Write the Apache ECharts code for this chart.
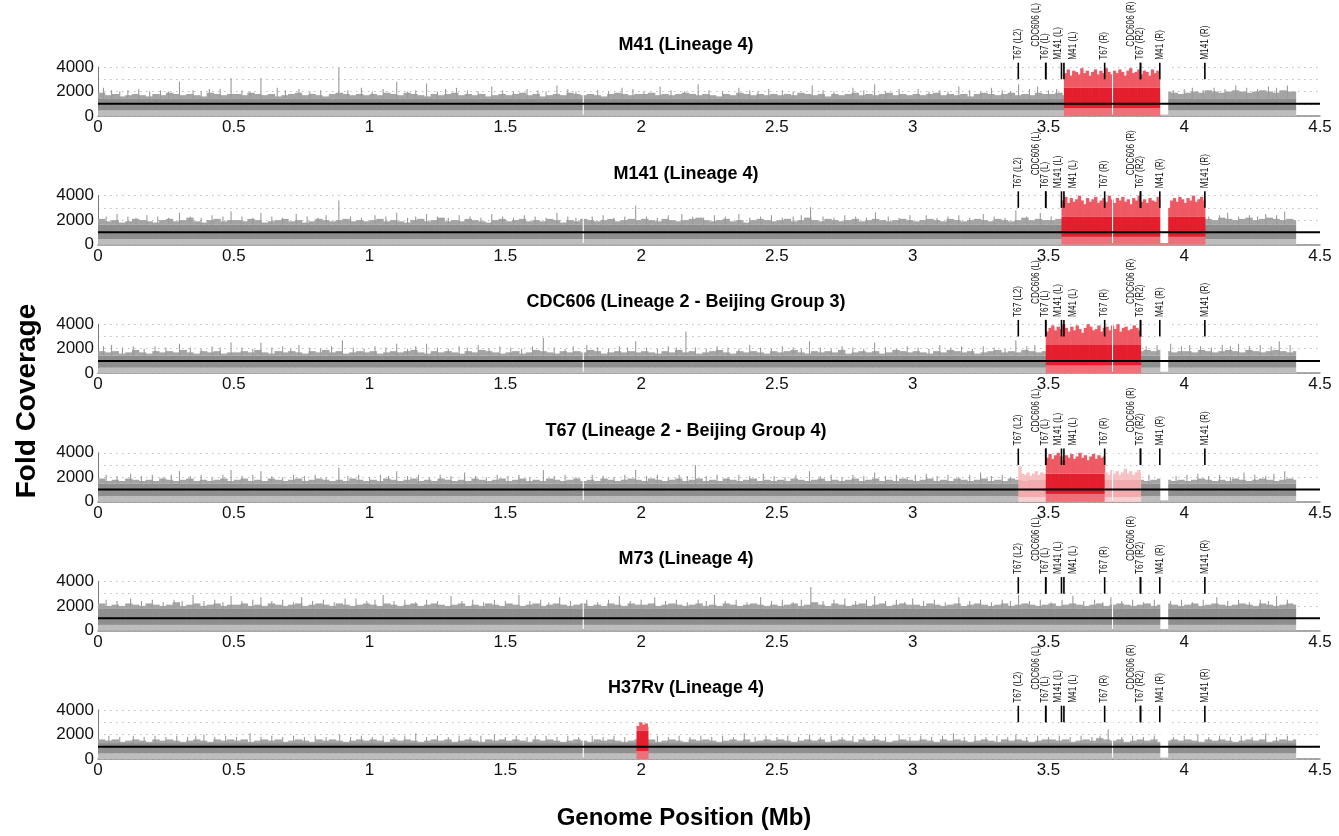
<!DOCTYPE html>
<html><head><meta charset="utf-8">
<script src="https://cdn.jsdelivr.net/npm/echarts@6/dist/echarts.min.js"></script>
<style>html,body{margin:0;padding:0;background:#fff}#chart{width:1339px;height:836px}</style>
</head><body><div id="chart"></div>
<script>
// ===================== DATA =====================
const sampleTitles = [
  'M41 (Lineage 4)',
  'M141 (Lineage 4)',
  'CDC606 (Lineage 2 - Beijing Group 3)',
  'T67 (Lineage 2 - Beijing Group 4)',
  'M73 (Lineage 4)',
  'H37Rv (Lineage 4)'
];
const xTickValues = [0, 0.5, 1, 1.5, 2, 2.5, 3, 3.5, 4, 4.5];
const yTickLabels = [0, 2000, 4000];
const genomeLengthMb = 4.41;
const binMb = 0.025;          // resolution of the coverage envelope arrays
const raisedBinMb = 0.01;     // resolution of the amplified-region arrays
const meanCoverage = 1000;
const coverageUnit = 100;     // envelope arrays are given in hundreds of fold coverage

// upper envelope of the grey coverage trace, one value per 0.025 Mb (hundreds)
const m41Top = [
  19,17,18,16,17,18,17,16,18,17,19,18,17,18,17,16,19,18,17,18,
  18,17,19,18,17,18,16,17,18,19,17,18,17,16,18,19,18,17,18,17,
  18,17,19,18,17,19,18,17,16,18,17,18,19,17,18,17,18,16,17,18,
  17,18,19,17,18,16,17,18,17,19,18,17,18,17,16,18,19,18,17,18,
  18,19,17,18,17,18,19,18,17,18,17,16,18,17,19,18,17,18,17,18,
  17,18,17,19,18,17,18,16,18,17,18,19,17,18,17,18,19,17,18,17,
  18,17,18,19,17,18,17,18,16,18,19,18,17,18,19,17,18,17,19,18,
  18,19,17,18,19,18,17,19,18,17,18,19,18,17,18,19,18,20,19,18,
  19,20,19,21,20,19,20,21,20,19,20,21,20,19,21,20,20
];
const m141Top = [
  21,19,20,18,19,21,20,19,18,20,21,19,20,22,19,18,20,21,19,20,
  20,19,21,20,18,19,20,21,19,20,18,19,21,20,19,20,21,19,20,19,
  20,21,19,20,19,18,20,21,19,20,22,19,20,19,21,20,19,18,20,21,
  19,20,21,19,20,19,21,20,18,20,19,21,20,19,20,21,19,20,21,20,
  21,20,19,21,20,19,20,21,22,20,19,20,21,19,20,18,20,21,20,19,
  20,21,19,20,22,20,19,21,20,19,20,21,19,20,21,20,19,20,21,20,
  19,20,21,20,19,21,20,19,20,21,20,19,21,20,19,20,22,20,21,20,
  20,21,20,19,21,20,19,20,21,20,19,21,20,19,21,20,19,20,21,20,
  20,21,20,21,20,22,21,20,21,22,20,21,22,21,20,21,20
];
const cdc606Top = [
  18,17,18,16,17,19,17,16,18,17,18,17,19,17,16,18,17,18,16,17,
  17,18,17,19,17,16,18,17,18,17,16,18,17,19,17,18,16,17,18,17,
  18,16,17,18,17,18,19,17,16,18,17,18,17,16,18,17,19,18,17,16,
  17,18,16,17,19,18,17,16,18,17,18,17,19,18,16,17,18,17,18,17,
  18,17,16,18,17,19,17,18,16,17,18,19,17,16,18,17,18,17,16,18,
  17,18,19,17,16,18,17,18,17,19,16,17,18,17,18,16,17,19,18,17,
  18,17,16,18,17,19,18,17,18,16,17,18,19,17,18,17,19,18,17,18,
  18,19,18,19,18,19,18,18,19,18,18,19,18,18,19,18,19,18,17,18,
  18,17,19,18,17,18,19,18,17,19,18,17,18,19,18,17,18
];
const t67Top = [
  19,17,18,17,19,18,17,18,17,19,18,17,18,19,17,18,17,18,19,17,
  18,19,17,18,17,19,18,17,18,19,17,18,19,18,17,18,17,19,18,17,
  18,17,19,18,17,18,19,17,18,17,19,18,17,18,17,19,18,17,18,19,
  17,18,19,17,18,17,19,18,17,18,19,17,18,17,19,18,17,18,19,18,
  17,19,18,17,18,19,17,18,19,17,18,17,19,18,17,18,19,17,18,17,
  18,17,19,18,17,18,19,17,18,17,18,19,17,18,19,17,18,17,19,18,
  17,18,19,17,18,17,19,18,17,18,19,17,18,17,19,18,17,18,19,18,
  19,18,19,18,19,18,19,18,19,18,19,18,19,18,17,18,19,18,17,18,
  17,18,19,18,17,18,17,19,18,17,18,19,18,17,18,19,18
];
const m73Top = [
  22,20,21,20,22,21,20,22,21,20,21,23,20,21,22,20,21,22,20,21,
  21,22,20,21,20,22,21,20,21,22,20,21,22,21,20,22,21,20,21,22,
  21,20,22,21,20,21,22,20,21,22,21,20,21,22,20,21,20,22,21,20,
  22,21,20,21,22,20,21,22,21,20,21,22,20,21,20,22,21,20,22,21,
  21,22,20,21,22,21,20,21,22,20,21,20,22,21,20,21,22,21,20,21,
  20,21,22,20,21,23,21,20,22,21,20,21,22,20,21,22,20,21,22,21,
  21,20,22,21,20,21,22,20,21,22,21,20,21,22,20,21,22,21,20,21,
  22,20,21,22,21,20,21,22,20,21,22,21,20,21,22,20,21,22,21,20,
  21,22,20,21,22,21,20,21,22,21,20,22,21,20,21,22,21
];
const h37rvTop = [
  16,15,16,14,15,16,15,14,16,15,16,15,14,15,16,15,14,16,15,16,
  15,16,14,15,16,15,16,14,15,16,15,14,16,15,16,15,14,15,16,15,
  16,15,14,16,15,16,15,14,15,16,15,16,14,15,16,15,14,16,15,16,
  15,16,15,14,16,15,16,15,14,15,16,15,14,16,15,16,15,14,15,16,
  15,16,14,15,16,15,14,16,15,16,15,14,15,16,15,16,14,15,16,15,
  16,15,14,15,16,15,16,14,15,16,15,14,16,15,16,15,14,15,16,15,
  15,16,15,14,16,15,16,15,14,15,16,15,14,16,15,16,15,14,15,16,
  16,15,16,14,15,16,15,17,16,15,16,14,15,16,15,16,14,15,16,15,
  16,15,14,16,15,16,15,14,15,16,15,16,14,15,16,15,16
];

// thin peaks rising above the envelope: [position Mb, fold coverage]
const m41Peaks = [[0.02,2300],[0.05,2100],[0.08,2000],[0.11,2100],[0.15,2200],[0.19,2000],[0.23,2100],[0.26,2000],[0.30,2800],[0.35,2100],[0.38,2000],[0.41,2200],[0.45,2200],[0.49,3080],[0.53,2100],[0.56,2000],[0.60,3080],[0.66,2300],[0.69,2100],[0.74,2200],[0.78,2000],[0.82,2100],[0.887,3940],[0.92,2100],[0.97,2300],[1.01,2000],[1.05,2200],[1.10,2800],[1.14,2000],[1.17,2100],[1.21,2660],[1.25,2000],[1.28,2200],[1.32,2300],[1.36,2100],[1.40,2000],[1.45,2400],[1.49,2100],[1.53,2000],[1.58,2200],[1.62,2100],[1.65,2000],[1.69,2500],[1.73,2200],[1.76,2000],[1.84,2100],[1.88,2000],[1.93,2300],[1.97,2200],[2.01,2000],[2.07,2400],[2.11,2100],[2.16,2000],[2.21,2600],[2.25,2100],[2.30,2000],[2.36,2300],[2.40,2100],[2.43,2000],[2.47,2200],[2.52,2100],[2.56,2000],[2.63,2500],[2.67,2100],[2.71,2000],[2.78,2300],[2.82,2100],[2.86,2600],[2.90,2000],[2.95,2200],[3.02,2200],[3.06,2000],[3.10,2100],[3.13,2000],[3.17,2400],[3.21,2100],[3.25,2000],[3.29,2300],[3.33,2100],[3.36,2000],[3.39,2600],[3.43,2200],[3.46,2400],[3.50,2100],[3.53,2200],[3.96,2100],[4.00,2200],[4.03,2300],[4.07,2100],[4.11,2300],[4.15,2200],[4.19,2500],[4.23,2300],[4.27,2200],[4.31,2400],[4.34,2300],[4.38,2500]];
const m141Peaks = [[0.03,2300],[0.07,2500],[0.11,2300],[0.14,2200],[0.18,2400],[0.22,2300],[0.26,2200],[0.30,2600],[0.34,2300],[0.38,2200],[0.42,2400],[0.46,2300],[0.49,2700],[0.53,2300],[0.57,2200],[0.60,2600],[0.64,2300],[0.68,2200],[0.73,2500],[0.77,2300],[0.81,2200],[0.84,2400],[0.887,3600],[0.93,2300],[0.97,2200],[1.02,2400],[1.06,2300],[1.10,2600],[1.14,2200],[1.17,2300],[1.21,2500],[1.25,2300],[1.29,2200],[1.33,2400],[1.37,2300],[1.41,2200],[1.45,2500],[1.49,2300],[1.53,2200],[1.57,2400],[1.61,2300],[1.65,2200],[1.69,2600],[1.73,2300],[1.76,2200],[1.82,2300],[1.86,2400],[1.90,2200],[1.94,2300],[1.98,3180],[2.02,2300],[2.06,2200],[2.10,2400],[2.15,2500],[2.19,2300],[2.23,2200],[2.27,2400],[2.31,2300],[2.36,2500],[2.40,2200],[2.44,2300],[2.48,2400],[2.52,2200],[2.56,2300],[2.59,2400],[2.624,3050],[2.67,2300],[2.71,2200],[2.75,2400],[2.79,2300],[2.83,2200],[2.863,2640],[2.91,2300],[2.95,2200],[2.99,2400],[3.05,2400],[3.09,2200],[3.13,2300],[3.17,2400],[3.21,2200],[3.26,2500],[3.30,2300],[3.34,2200],[3.38,2800],[3.42,2300],[3.47,2600],[3.51,2300],[4.09,2300],[4.13,2400],[4.16,2600],[4.20,2300],[4.24,2400],[4.27,2300],[4.30,2500],[4.34,2400],[4.37,2700]];
const cdc606Peaks = [[0.02,2200],[0.05,2300],[0.09,2100],[0.13,2200],[0.17,2000],[0.21,2200],[0.25,2100],[0.30,2400],[0.34,2100],[0.38,2000],[0.42,2200],[0.45,2100],[0.49,2500],[0.53,2100],[0.57,2000],[0.60,2500],[0.64,2100],[0.68,2200],[0.71,2000],[0.74,2300],[0.78,2100],[0.82,2000],[0.86,2200],[0.90,2700],[0.94,2100],[0.98,2000],[1.02,2200],[1.06,2100],[1.10,2400],[1.14,2000],[1.17,2200],[1.21,2400],[1.25,2100],[1.29,2000],[1.33,2200],[1.36,2100],[1.40,2300],[1.44,2000],[1.48,2200],[1.52,2100],[1.56,2000],[1.60,2200],[1.64,2900],[1.68,2100],[1.72,2000],[1.75,2200],[1.80,2300],[1.84,2100],[1.88,2000],[1.92,2200],[1.95,2100],[1.98,2600],[2.02,2100],[2.06,2000],[2.10,2200],[2.13,2100],[2.165,3400],[2.20,2100],[2.24,2000],[2.28,2200],[2.32,2100],[2.36,2000],[2.40,2300],[2.44,2100],[2.48,2000],[2.52,2200],[2.56,2100],[2.59,2000],[2.62,2600],[2.66,2100],[2.70,2000],[2.74,2200],[2.78,2100],[2.82,2000],[2.86,2500],[2.90,2100],[2.94,2000],[2.98,2200],[3.02,2100],[3.06,2000],[3.10,2300],[3.14,2100],[3.18,2200],[3.22,2000],[3.26,2200],[3.30,2100],[3.34,2000],[3.38,2700],[3.42,2200],[3.45,2300],[3.86,2200],[3.90,2300],[3.95,2400],[3.99,2200],[4.02,2300],[4.06,2200],[4.10,2100],[4.14,2300],[4.17,2200],[4.20,2400],[4.24,2200],[4.28,2300],[4.32,2200],[4.35,2600],[4.39,2300]];
const t67Peaks = [[0.03,2200],[0.07,2100],[0.12,2300],[0.16,2100],[0.20,2200],[0.24,2000],[0.27,2200],[0.30,2500],[0.34,2100],[0.38,2200],[0.42,2000],[0.46,2200],[0.49,2600],[0.53,2100],[0.57,2200],[0.60,2500],[0.64,2100],[0.68,2000],[0.72,2200],[0.76,2100],[0.80,2200],[0.84,2000],[0.887,2800],[0.92,2100],[0.96,2200],[1.00,2000],[1.04,2200],[1.07,2100],[1.10,2500],[1.14,2100],[1.18,2200],[1.22,2000],[1.26,2200],[1.30,2100],[1.35,2400],[1.39,2100],[1.43,2000],[1.47,2200],[1.51,2100],[1.55,2200],[1.59,2000],[1.64,2600],[1.68,2100],[1.72,2200],[1.76,2000],[1.82,2200],[1.86,2100],[1.90,2000],[1.94,2200],[1.98,2600],[2.02,2100],[2.06,2200],[2.10,2000],[2.14,2200],[2.17,2100],[2.20,3000],[2.24,2100],[2.28,2200],[2.32,2000],[2.36,2200],[2.40,2100],[2.45,2300],[2.49,2100],[2.53,2000],[2.57,2200],[2.62,2500],[2.66,2100],[2.70,2200],[2.74,2000],[2.78,2200],[2.82,2100],[2.86,2400],[2.90,2100],[2.94,2200],[2.98,2000],[3.01,2200],[3.05,2300],[3.09,2100],[3.13,2200],[3.17,2000],[3.21,2200],[3.25,2400],[3.29,2100],[3.33,2200],[3.36,2000],[3.87,2200],[3.93,2300],[3.97,2100],[4.01,2200],[4.05,2300],[4.09,2100],[4.13,2200],[4.17,2000],[4.22,2400],[4.26,2200],[4.30,2100],[4.33,2300],[4.37,2500]];
const m73Peaks = [[0.03,2500],[0.07,2400],[0.12,2600],[0.16,2400],[0.20,2500],[0.24,2300],[0.28,2500],[0.31,2400],[0.35,2900],[0.39,2400],[0.43,2500],[0.46,2300],[0.49,2800],[0.53,2400],[0.57,2500],[0.60,2700],[0.64,2400],[0.68,2500],[0.72,2300],[0.75,2700],[0.79,2400],[0.83,2500],[0.87,2300],[0.91,2600],[0.95,2600],[0.99,2400],[1.02,2500],[1.05,2900],[1.09,2400],[1.13,2500],[1.17,2300],[1.21,2500],[1.25,2400],[1.30,2800],[1.34,2400],[1.38,2500],[1.42,2300],[1.46,2500],[1.50,2400],[1.55,2900],[1.59,2400],[1.63,2500],[1.66,2300],[1.70,2700],[1.74,2400],[1.80,2500],[1.84,2300],[1.88,2500],[1.92,2800],[1.96,2400],[2.00,2500],[2.05,2700],[2.09,2400],[2.13,2500],[2.17,2300],[2.21,2500],[2.24,2400],[2.27,2900],[2.31,2400],[2.35,2500],[2.39,2300],[2.44,2700],[2.48,2400],[2.52,2500],[2.56,2300],[2.59,2500],[2.625,3540],[2.67,2400],[2.71,2500],[2.75,2600],[2.79,2400],[2.83,2500],[2.86,2800],[2.90,2400],[2.94,2500],[2.97,2300],[3.00,2600],[3.04,2400],[3.08,2500],[3.12,2300],[3.17,2700],[3.21,2400],[3.25,2500],[3.29,2300],[3.33,2500],[3.36,2400],[3.39,2900],[3.43,2400],[3.47,2500],[3.51,2300],[3.55,2500],[3.59,2800],[3.63,2400],[3.67,2500],[3.70,2300],[3.73,2700],[3.77,2400],[3.81,2500],[3.85,2300],[3.89,2500],[3.95,2400],[3.99,2500],[4.03,2300],[4.07,2500],[4.12,2700],[4.16,2400],[4.20,2500],[4.24,2300],[4.28,2500],[4.31,2400],[4.34,2800],[4.38,2500]];
const h37rvPeaks = [[0.04,1900],[0.08,1800],[0.13,1900],[0.17,1800],[0.21,1900],[0.25,1800],[0.29,1900],[0.33,1800],[0.36,1900],[0.39,2000],[0.43,1800],[0.47,1900],[0.51,1800],[0.56,2100],[0.60,1800],[0.64,1900],[0.68,1800],[0.72,1900],[0.76,1800],[0.80,1900],[0.84,1800],[0.89,2000],[0.93,1800],[0.97,1900],[1.01,1800],[1.05,1900],[1.09,1800],[1.13,1900],[1.17,2100],[1.21,1800],[1.25,1900],[1.29,1800],[1.33,1900],[1.37,1800],[1.41,1900],[1.46,2000],[1.50,1800],[1.54,1900],[1.58,1800],[1.61,1900],[1.65,1900],[1.69,1800],[1.73,1900],[1.77,1800],[1.82,1900],[1.86,1800],[1.90,1900],[1.94,1800],[2.06,1900],[2.10,1800],[2.14,1900],[2.18,1800],[2.22,1900],[2.26,1800],[2.30,1900],[2.34,1800],[2.38,2100],[2.42,1800],[2.46,1900],[2.50,1800],[2.54,1900],[2.58,1800],[2.62,2000],[2.66,1800],[2.70,1900],[2.74,1800],[2.78,1900],[2.82,1800],[2.86,1900],[2.90,1800],[2.95,2000],[2.99,1800],[3.03,1900],[3.07,1800],[3.11,1900],[3.15,2100],[3.19,1800],[3.23,1900],[3.27,1800],[3.31,1900],[3.35,1800],[3.38,2000],[3.42,1800],[3.46,1900],[3.50,1800],[3.54,1900],[3.58,1800],[3.62,1900],[3.66,1800],[3.69,1900],[3.72,2400],[3.77,1800],[3.81,1900],[3.85,1800],[3.89,1900],[3.96,1800],[4.00,1900],[4.05,2000],[4.09,1800],[4.13,1900],[4.17,1800],[4.21,1900],[4.25,1800],[4.30,2100],[4.34,1800],[4.38,1900]];

// amplified regions: start / end (Mb), kind, upper envelope per 0.01 Mb (hundreds)
const m41Amplified   = [{start:3.557, end:3.910, kind:'high', tops:[35,38,33,37,36,34,39,35,37,33,36,38,34,37,35,39,36,34,37,35,38,36,33,37,39,35,36,38,34,37,36,33,38,35,37,36]}];
const m141Amplified  = [{start:3.548, end:4.076, kind:'high', tops:[36,39,34,38,35,37,40,36,33,38,35,37,39,34,36,38,35,40,37,34,38,36,39,35,37,33,38,36,40,35,37,34,38,36,35,39,37,30,30,30,36,38,35,39,37,34,38,36,40,35,37,39,36]}];
const cdc606Amplified = [{start:3.490, end:3.839, kind:'high', tops:[34,37,39,35,38,36,40,37,34,38,35,39,36,33,37,40,38,35,36,39,34,37,38,35,39,36,40,34,37,38,35,36,39,37,35]}];
const t67Amplified   = [
  {start:3.389, end:3.490, kind:'mid',  tops:[29,23,22,24,21,23,25,22,24,23,22]},
  {start:3.490, end:3.707, kind:'high', tops:[36,39,35,38,40,37,34,38,36,39,35,37,40,36,38,34,37,39,35,38,36,37]},
  {start:3.707, end:3.839, kind:'mid',  tops:[24,22,26,23,25,22,24,27,23,25,22,24,26,23]}
];
const m73Amplified   = [];
const h37rvAmplified = [{start:1.983, end:2.025, kind:'high', tops:[27,30,28,29,26]}];

// zero-coverage gaps (Mb)
const coverageGaps = [[1.785,1.789],[3.734,3.738],[3.912,3.941]];

// deletion / duplication boundary markers
const markerNames = ['T67 (L2)','CDC606 (L)','T67 (L)','M141 (L)','M41 (L)','T67 (R)','CDC606 (R)','T67 (R2)','M41 (R)','M141 (R)'];
const markerPositions = [3.389, 3.490, 3.490, 3.548, 3.557, 3.707, 3.839, 3.839, 3.910, 4.076];
const markerSpan = [3000, 4350];   // fold-coverage extent of each marker tick

const panelTops = [m41Top, m141Top, cdc606Top, t67Top, m73Top, h37rvTop];
const panelPeaks = [m41Peaks, m141Peaks, cdc606Peaks, t67Peaks, m73Peaks, h37rvPeaks];
const panelAmplified = [m41Amplified, m141Amplified, cdc606Amplified, t67Amplified, m73Amplified, h37rvAmplified];
const panelCore = [1450, 1650, 1450, 1500, 1750, 1300]; // top of the dense part of the grey trace

// ===================== STYLE / LAYOUT =====================
const GRID_LEFT = 98, GRID_RIGHT = 19, GRID_H = 49, FIRST_TOP = 67, STEP_Y = 128.6;
const SANS = '"Liberation Sans",Arial,Helvetica,sans-serif';
const palettes = {
  grey: {bottom:450, cBottom:'#bdbdbd', cCore:'#8e8e8e', cTop:'#a4a4a4'},
  high: {bottom:650, core:2300, cBottom:'#ee7078', cCore:'#e41e2d', cTop:'#ee5964'},
  mid:  {bottom:400, core:1750, cBottom:'#f9d0d2', cCore:'#f4abae', cTop:'#f7c0c2'}
};
const kindIndex = {high:1, mid:2};
const labelOffsets = { // px offsets of rotated marker labels
  'CDC606 (L)':[-9,13], 'CDC606 (R)':[-9,13], 'M141 (L)':[-3,0], 'M41 (L)':[9,0]
};

function rectBetween(api, x0, x1, v0, v1, fill) {
  const a = api.coord([x0, v0]), b = api.coord([x1, v1]);
  return {type:'rect', shape:{x:a[0], y:b[1], width:Math.max(b[0]-a[0]+0.6, 0.8), height:a[1]-b[1]}, style:{fill}};
}
function bandRenderer(core) {
  return function (params, api) {
    const x0 = api.value(0), x1 = api.value(1), top = api.value(2), k = api.value(3);
    const p = k === 1 ? palettes.high : k === 2 ? palettes.mid : Object.assign({core}, palettes.grey);
    const ch = [];
    ch.push(rectBetween(api, x0, x1, 0, Math.min(p.bottom, top), p.cBottom));
    if (top > p.bottom) ch.push(rectBetween(api, x0, x1, p.bottom, Math.min(p.core, top), p.cCore));
    if (top > p.core) ch.push(rectBetween(api, x0, x1, p.core, top, p.cTop));
    return {type:'group', children:ch};
  };
}

const grids = [], xAxes = [], yAxes = [], series = [], graphics = [];
for (let i = 0; i < 6; i++) {
  const top = FIRST_TOP + STEP_Y * i;
  grids.push({left:GRID_LEFT, right:GRID_RIGHT, top:top, height:GRID_H, containLabel:false});
  xAxes.push({type:'value', gridIndex:i, min:xTickValues[0], max:xTickValues[xTickValues.length-1], interval:0.5,
    axisLine:{show:true, onZero:false, lineStyle:{color:'#8c8c8c', width:1.5}}, axisTick:{show:false}, splitLine:{show:false},
    axisLabel:{color:'#111', fontSize:17, fontFamily:SANS, margin:3, formatter:v => xTickValues.includes(v) ? String(v) : ''}});
  yAxes.push({type:'value', gridIndex:i, min:0, max:4000, interval:1000,
    axisLine:{show:true, lineStyle:{color:'#7a7a7a', width:1}}, axisTick:{show:false},
    splitLine:{show:true, lineStyle:{color:'#bdbdbd', type:[1.5,4.5], width:1.2}},
    axisLabel:{color:'#111', fontSize:17, fontFamily:SANS, margin:4, formatter:v => yTickLabels.includes(v) ? String(v) : ''}});

  // grey envelope bins
  const tops = panelTops[i];
  const greyData = tops.map((t, j) => [j * binMb, Math.min((j + 1) * binMb, genomeLengthMb), t * coverageUnit, 0]);
  series.push({type:'custom', xAxisIndex:i, yAxisIndex:i, z:2, silent:true, animation:false,
    renderItem:bandRenderer(panelCore[i]), data:greyData, encode:{x:[0,1], y:2}});
  // thin peaks
  series.push({type:'custom', xAxisIndex:i, yAxisIndex:i, z:2, silent:true, animation:false,
    data:panelPeaks[i], encode:{x:0, y:1},
    renderItem:(function (core) { return function (params, api) {
      const a = api.coord([api.value(0), core]), b = api.coord([api.value(0), api.value(1)]);
      return {type:'line', shape:{x1:a[0], y1:a[1], x2:b[0], y2:b[1]}, style:{stroke:'#9a9a9a', lineWidth:1.1}};
    }; })(panelCore[i])});
  // amplified regions
  const ampData = [];
  panelAmplified[i].forEach(seg => {
    seg.tops.forEach((t, j) => {
      const x0 = seg.start + j * raisedBinMb;
      if (x0 >= seg.end) return;
      ampData.push([x0, Math.min(seg.start + (j + 1) * raisedBinMb, seg.end), t * coverageUnit, kindIndex[seg.kind]]);
    });
  });
  series.push({type:'custom', xAxisIndex:i, yAxisIndex:i, z:3, silent:true, animation:false,
    renderItem:bandRenderer(panelCore[i]), data:ampData, encode:{x:[0,1], y:2}});
  // gaps
  series.push({type:'custom', xAxisIndex:i, yAxisIndex:i, z:4, silent:true, animation:false,
    data:coverageGaps, encode:{x:[0,1]},
    renderItem:function (params, api) {
      const a = api.coord([api.value(0), 0]), b = api.coord([api.value(1), 4000]);
      return {type:'rect', shape:{x:a[0], y:b[1], width:b[0]-a[0], height:a[1]-b[1]-1.5}, style:{fill:'#ffffff'}};
    }});
  // mean coverage line
  series.push({type:'line', xAxisIndex:i, yAxisIndex:i, z:5, silent:true, animation:false, symbol:'none',
    data:[[xTickValues[0], meanCoverage], [xTickValues[xTickValues.length-1], meanCoverage]],
    lineStyle:{color:'#000', width:2}});
  // boundary markers
  series.push({type:'custom', xAxisIndex:i, yAxisIndex:i, z:6, silent:true, animation:false,
    data:markerPositions.map((p, k) => [p, k]), encode:{x:0},
    renderItem:function (params, api) {
      const pos = api.value(0), name = markerNames[api.value(1)];
      const a = api.coord([pos, markerSpan[0]]), b = api.coord([pos, markerSpan[1]]);
      const off = labelOffsets[name] || [0, 0];
      return {type:'group', children:[
        {type:'line', shape:{x1:a[0], y1:a[1], x2:b[0], y2:b[1]}, style:{stroke:'#000', lineWidth:1.6}},
        {type:'text', x:b[0] + off[0], y:b[1] - 3 - off[1], rotation:Math.PI / 2, scaleX:0.82,
          style:{text:name, fill:'#111', font:'10px ' + SANS, textAlign:'left', textVerticalAlign:'middle', align:'left', verticalAlign:'middle'}}
      ]};
    }});

  graphics.push({type:'text', x:686, y:top - 22, z:10,
    style:{text:sampleTitles[i], fill:'#000', font:'bold 18px ' + SANS, textAlign:'center', textVerticalAlign:'middle', align:'center', verticalAlign:'middle'}});
}
graphics.push({type:'text', x:27, y:401, rotation:Math.PI / 2,
  style:{text:'Fold Coverage', fill:'#000', font:'bold 28px ' + SANS, textAlign:'center', textVerticalAlign:'middle', align:'center', verticalAlign:'middle'}});
graphics.push({type:'text', x:684, y:818,
  style:{text:'Genome Position (Mb)', fill:'#000', font:'bold 24px ' + SANS, textAlign:'center', textVerticalAlign:'middle', align:'center', verticalAlign:'middle'}});

const chart = echarts.init(document.getElementById('chart'), null, {renderer:'canvas'});
chart.setOption({animation:false, backgroundColor:'#fff', grid:grids, xAxis:xAxes, yAxis:yAxes, series:series, graphic:graphics});
</script></body></html>
